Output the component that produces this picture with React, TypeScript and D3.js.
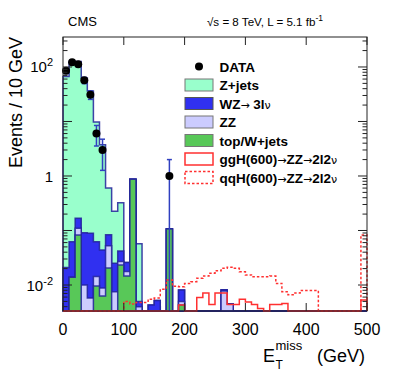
import React from "react";
import * as d3 from "d3";

// 10 GeV bins, 0-500 GeV
const binEdges = d3.range(51).map((i) => i * 10);

const zjets = [66.8, 126, 126, 63, 36, 9.7, 3.7, 0.52, 0.2, 0.28, 0, 0, 0.052, 0, 0, 0, 0, 0, 0, 0,
  0, 0, 0, 0, 0, 0, 0, 0, 0, 0, 0, 0, 0, 0, 0, 0, 0, 0, 0, 0, 0, 0, 0, 0, 0, 0, 0, 0, 0, 0];
const wz = [0.021, 0.048, 0.058, 0.081, 0.083, 0.048, 0.035, 0.031, 0.0175, 0.015, 0.0084, 0, 0.001, 0, 0.0043, 0.0052, 0, 0, 0, 0.0031,
  0, 0, 0, 0, 0, 0, 0.0004, 0, 0, 0, 0, 0, 0, 0, 0, 0, 0, 0, 0, 0, 0, 0, 0, 0, 0, 0, 0, 0, 0, 0];
const zz = [0, 0, 0.027, 0.01, 0.0058, 0.0047, 0.0025, 0.032, 0.0075, 0.0036, 0.003, 0, 0.004, 0, 0, 0, 0, 0, 0, 0.0007,
  0, 0, 0, 0, 0, 0, 0.0078, 0.0045, 0, 0, 0, 0, 0, 0, 0, 0, 0, 0, 0, 0, 0, 0, 0, 0, 0, 0, 0, 0, 0, 0];
const topW = [0, 0.0139, 0.083, 0, 0, 0.0096, 0.0063, 0.0204, 0, 0.0234, 0.0146, 0.87, 0, 0, 0, 0, 0, 0.107, 0, 0.0043,
  0, 0, 0, 0, 0, 0, 0, 0, 0, 0, 0, 0, 0, 0, 0, 0, 0, 0, 0, 0, 0, 0, 0, 0, 0, 0, 0, 0, 0, 0];
const ggH = [0, 0, 0, 0, 0, 0, 0, 0, 0, 0, 0, 0, 0, 0, 0, 0, 0, 0, 0, 0.0043,
  0, 0, 0.0059, 0.0071, 0.0044, 0.0071, 0.0071, 0.0044, 0.0044, 0.0055, 0.0049, 0.0044, 0.0037, 0, 0.0044, 0.0044, 0.0046, 0, 0, 0,
  0, 0, 0, 0, 0, 0, 0, 0, 0, 0.0053];
const qqH = [0, 0, 0, 0, 0, 0, 0, 0, 0, 0, 0.005, 0.0045, 0.0048, 0.0048, 0.0055, 0.0058, 0.0084, 0.0124, 0.0095, 0.0093,
  0.0107, 0.0115, 0.0133, 0.0146, 0.0164, 0.0183, 0.0202, 0.0211, 0.0202, 0.0175, 0.0153, 0.0142, 0.0142, 0.0142, 0.0146, 0.0107, 0.0075, 0.0066, 0.0071, 0.0079,
  0.0079, 0.0079, 0, 0, 0, 0, 0, 0, 0, 0.083];
const dataCounts = [85, 122, 112, 57, 31, 6, 3, 0, 0, 0, 0, 0, 0, 0, 0, 0, 0, 1, 0, 0,
  0, 0, 0, 0, 0, 0, 0, 0, 0, 0, 0, 0, 0, 0, 0, 0, 0, 0, 0, 0, 0, 0, 0, 0, 0, 0, 0, 0, 0, 0];

const xTicks = [0, 100, 200, 300, 400, 500];
const legendLabels = ["DATA", "Z+jets", "WZ", "ZZ", "top/W+jets", "ggH(600)", "qqH(600)"];

const font = "Liberation Sans, Arial, Helvetica, sans-serif";
const navy = "#22229a";
const red = "#ff3030";

const L = 63, R = 367, T = 37, B = 311;

export default function App() {
  const x = d3.scaleLinear().domain([0, 500]).range([L, R]);
  const y = d3.scaleLog().domain([Math.pow(10, -2.477), Math.pow(10, 2.55)]).range([B, T]).clamp(true);
  const yv = (v: number) => y(Math.max(v, 1e-5));

  // cumulative stack, bottom to top: top/W+jets, ZZ, WZ, Z+jets
  const cG = topW;
  const cZZ = cG.map((v, i) => v + zz[i]);
  const cWZ = cZZ.map((v, i) => v + wz[i]);
  const cTot = cWZ.map((v, i) => v + zjets[i]);

  const steps = (vals: number[]) => {
    const pts: [number, number][] = [];
    vals.forEach((v, i) => {
      pts.push([binEdges[i], v]);
      pts.push([binEdges[i + 1], v]);
    });
    return pts;
  };

  const area = d3.area<[number, number]>()
    .x((d) => x(d[0]))
    .y0(B)
    .y1((d) => yv(d[1]));
  const line = d3.line<[number, number]>()
    .x((d) => x(d[0]))
    .y((d) => yv(d[1]));

  const stack = [
    { vals: cTot, fill: "#99ffcc" },
    { vals: cWZ, fill: "#3030f0" },
    { vals: cZZ, fill: "#ccccff" },
    { vals: cG, fill: "#58c858" },
  ];

  const sigPath = (vals: number[]) => line([[0, 0], ...steps(vals), [500, 0]]);

  const decades = [-3, -2, -1, 0, 1, 2];
  const yMajor = decades.map((e) => Math.pow(10, e)).filter((v) => yv(v) < B && yv(v) > T);
  const yMinor: number[] = [];
  decades.forEach((e) => {
    for (let m = 2; m <= 9; m++) {
      const v = m * Math.pow(10, e);
      if (yv(v) < B - 0.5 && yv(v) > T + 0.5) yMinor.push(v);
    }
  });

  const rowY = (i: number) => 66.5 + i * 18.5;
  // arrows and nu come from the symbol font in the original, lighter and narrower
  const sym = (s: string) => (
    <tspan fontWeight="normal" fontSize={11} fontFamily="DejaVu Sans">{s}</tspan>
  );

  return (
    <svg width={399} height={375} style={{ position: "absolute", left: 0, top: 0, background: "#fff" }} fontFamily={font}>
      {/* stacked backgrounds */}
      {stack.map((s, i) => (
        <path key={i} d={area(steps(s.vals)) || ""} fill={s.fill} stroke={navy} strokeWidth={1.5} strokeOpacity={0.85} />
      ))}
      {/* signals */}
      <path d={sigPath(ggH) || ""} fill="none" stroke={red} strokeWidth={1.5} />
      <path d={sigPath(qqH) || ""} fill="none" stroke={red} strokeWidth={1.5} strokeDasharray="2.5,2" />

      {/* data */}
      {dataCounts.map((n, i) => {
        if (n <= 0) return null;
        const cx = x(binEdges[i] + 5);
        const err = Math.sqrt(n);
        const yHi = yv(n + err);
        const yLo = n - err > 0 ? yv(n - err) : B;
        return (
          <g key={i}>
            <line x1={cx} x2={cx} y1={yHi} y2={yLo} stroke="#3040c0" strokeWidth={1.5} />
            <line x1={cx - 2.5} x2={cx + 2.5} y1={yHi} y2={yHi} stroke="#3040c0" strokeWidth={1.5} />
            {n - err > 0 && <line x1={cx - 2.5} x2={cx + 2.5} y1={yLo} y2={yLo} stroke="#3040c0" strokeWidth={1.5} />}
            <circle cx={cx} cy={yv(n)} r={4} fill="#000" />
          </g>
        );
      })}

      {/* frame and ticks */}
      <rect x={L} y={T} width={R - L} height={B - T} fill="none" stroke="#222" strokeWidth={1} />
      {xTicks.map((t) => (
        <g key={t}>
          <line x1={x(t)} x2={x(t)} y1={B} y2={B - 8} stroke="#222" />
          <line x1={x(t)} x2={x(t)} y1={T} y2={T + 8} stroke="#222" />
          <text x={x(t)} y={335} textAnchor="middle" fontSize={16}>{t}</text>
        </g>
      ))}
      {yMajor.map((v) => (
        <g key={"M" + v}>
          <line x1={L} x2={L + 9} y1={yv(v)} y2={yv(v)} stroke="#222" />
          <line x1={R} x2={R - 9} y1={yv(v)} y2={yv(v)} stroke="#222" />
        </g>
      ))}
      {yMinor.map((v) => (
        <g key={"m" + v}>
          <line x1={L} x2={L + 4.5} y1={yv(v)} y2={yv(v)} stroke="#222" />
          <line x1={R} x2={R - 4.5} y1={yv(v)} y2={yv(v)} stroke="#222" />
        </g>
      ))}
      <text x={53} y={yv(100) + 5.5} textAnchor="end" fontSize={15}>
        10<tspan fontSize={11} dy={-6}>2</tspan>
      </text>
      <text x={53} y={yv(1) + 6} textAnchor="end" fontSize={15}>1</text>
      <text x={53} y={yv(0.01) + 5.5} textAnchor="end" fontSize={15}>
        10<tspan fontSize={11} dy={-6}>-2</tspan>
      </text>

      {/* axis titles */}
      <text transform={`translate(22,${T}) rotate(-90)`} textAnchor="end" fontSize={18}>Events / 10 GeV</text>
      <text x={263} y={362} fontSize={18}>E</text>
      <text x={275.5} y={368.5} fontSize={12}>T</text>
      <text x={275.5} y={350} fontSize={13}>miss</text>
      <text x={365} y={362} textAnchor="end" fontSize={18}>(GeV)</text>

      {/* header */}
      <text x={68} y={26} fontSize={13}>CMS</text>
      <text x={207} y={26} fontSize={11.6}>
        √s = 8 TeV, L = 5.1 fb<tspan fontSize={8.5} dy={-5}>-1</tspan>
      </text>

      {/* legend */}
      <circle cx={199} cy={rowY(0)} r={4} fill="#000" />
      <rect x={185} y={rowY(1) - 6} width={28} height={12} fill="#99ffcc" stroke="#777" strokeWidth={1} />
      <rect x={185} y={rowY(2) - 6} width={28} height={12} fill="#3030f0" stroke="#555" strokeWidth={1} />
      <rect x={185} y={rowY(3) - 6} width={28} height={12} fill="#ccccff" stroke="#777" strokeWidth={1} />
      <rect x={185} y={rowY(4) - 6} width={28} height={12} fill="#58c858" stroke="#777" strokeWidth={1} />
      <rect x={185} y={rowY(5) - 6} width={28} height={12} fill="#fff" stroke={red} strokeWidth={1.5} />
      <rect x={185} y={rowY(6) - 6} width={28} height={12} fill="#fff" stroke={red} strokeWidth={1.5} strokeDasharray="2.5,2" />
      <g fontSize={13.5} fontWeight="bold">
        <text x={219.5} y={rowY(0) + 5}>{legendLabels[0]}</text>
        <text x={219.5} y={rowY(1) + 5}>{legendLabels[1]}</text>
        <text x={219.5} y={rowY(2) + 5}>{legendLabels[2]}{sym("→ ")}3l{sym("ν")}</text>
        <text x={219.5} y={rowY(3) + 5}>{legendLabels[3]}</text>
        <text x={219.5} y={rowY(4) + 5}>{legendLabels[4]}</text>
        <text x={219.5} y={rowY(5) + 5}>{legendLabels[5]}{sym("→")}ZZ{sym("→")}2l2{sym("ν")}</text>
        <text x={219.5} y={rowY(6) + 5}>{legendLabels[6]}{sym("→")}ZZ{sym("→")}2l2{sym("ν")}</text>
      </g>
    </svg>
  );
}
